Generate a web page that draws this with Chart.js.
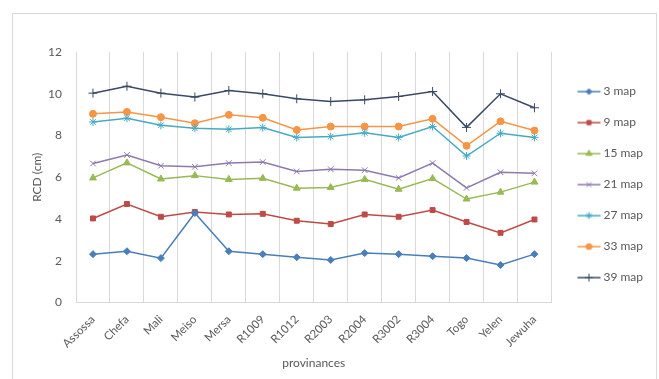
<!DOCTYPE html>
<html>
<head>
<meta charset="utf-8">
<script src="https://cdn.jsdelivr.net/npm/chart.js@4.4.0/dist/chart.umd.min.js"></script>
<style>
html, body { margin: 0; padding: 0; background: #fff; }
#wrap { width: 659px; height: 379px; }
</style>
</head>
<body>
<div id="wrap"><canvas id="graph" width="659" height="379"></canvas></div>
<script>
const provinces = ["Assossa", "Chefa", "Mali", "Meiso", "Mersa", "R1009", "R1012", "R2003", "R2004", "R3002", "R3004", "Togo", "Yelen", "Jewuha"]
const seriesNames = ["3 map", "9 map", "15 map", "21 map", "27 map", "33 map", "39 map"]

const map3  = [2.32, 2.46, 2.13, 4.29, 2.46, 2.32, 2.17, 2.04, 2.37, 2.32, 2.22, 2.13, 1.80, 2.32]
const map9  = [4.03, 4.72, 4.11, 4.34, 4.22, 4.25, 3.92, 3.76, 4.22, 4.11, 4.43, 3.86, 3.34, 3.98]
const map15 = [5.97, 6.69, 5.92, 6.08, 5.90, 5.95, 5.48, 5.51, 5.90, 5.43, 5.94, 4.96, 5.29, 5.77]
const map21 = [6.66, 7.07, 6.55, 6.50, 6.68, 6.73, 6.28, 6.39, 6.34, 5.97, 6.68, 5.49, 6.24, 6.19]
const map27 = [8.65, 8.83, 8.49, 8.35, 8.30, 8.38, 7.91, 7.95, 8.13, 7.91, 8.43, 7.02, 8.11, 7.91]
const map33 = [9.04, 9.13, 8.88, 8.59, 8.99, 8.85, 8.27, 8.43, 8.43, 8.43, 8.80, 7.51, 8.68, 8.24]
const map39 = [10.03, 10.36, 10.03, 9.84, 10.16, 10.0, 9.76, 9.63, 9.71, 9.87, 10.11, 8.39, 10.0, 9.33]

const yTicks = [0, 2, 4, 6, 8, 10, 12]

const lineColors   = ["#4a7ebb", "#be4b48", "#98b954", "#8d79ad", "#46aac5", "#f69546", "#3a4a62"]
const markerStyles = ["rectRot", "rect", "triangle", "crossRot", "star", "circle", "cross"]
const markerSizes  = [3.5, 3.5, 4, 4, 4, 3.5, 4.5]

const font = "Lato, 'Liberation Sans', sans-serif"
const textColor = "#595959"

// line + marker icon for the legend (excel style), drawn in the right part of the canvas
const makeIcon = (i) => {
    let cv = document.createElement("canvas")
    cv.width = 35
    cv.height = 12
    let ctx = cv.getContext("2d")
    ctx.strokeStyle = lineColors[i]
    ctx.lineWidth = 1.5
    ctx.beginPath()
    ctx.moveTo(11, 6)
    ctx.lineTo(34, 6)
    ctx.stroke()
    ctx.fillStyle = lineColors[i]
    ctx.lineWidth = 1
    Chart.helpers.drawPoint(ctx, {pointStyle: markerStyles[i], radius: markerSizes[i] - 0.5, rotation: 0, borderWidth: 1}, 22.5, 6)
    return cv
}

const frame = {
    id: "frame",
    beforeDraw: (chart) => {
        let ctx = chart.ctx
        ctx.save()
        ctx.strokeStyle = "#d9d9d9"
        ctx.lineWidth = 1
        ctx.strokeRect(12.5, 13.5, 644, 400)
        ctx.restore()
    }
}

const allData = [map3, map9, map15, map21, map27, map33, map39]

var rcd = document.getElementById("graph").getContext("2d")
var rcd_chart = new Chart(rcd, {
    type: "line",
    data: {
        labels: provinces,
        datasets: allData.map((d, i) => ({
            label: seriesNames[i],
            data: d,
            borderColor: lineColors[i],
            backgroundColor: lineColors[i],
            borderWidth: 1.5,
            pointStyle: markerStyles[i],
            pointRadius: markerSizes[i],
            pointBorderWidth: 1,
            pointBorderColor: lineColors[i],
            pointBackgroundColor: lineColors[i],
            tension: 0,
            fill: false
        }))
    },
    options: {
        responsive: false,
        animation: false,
        layout: {
            padding: {top: 52, left: 22, right: 6, bottom: 9}
        },
        plugins: {
            tooltip: {enabled: false},
            legend: {
                position: "right",
                fullSize: false,
                align: "end",
                labels: {
                    usePointStyle: true,
                    pointStyleWidth: 27,
                    boxHeight: 12,
                    padding: 19,
                    color: textColor,
                    font: {family: font, size: 12},
                    generateLabels: (chart) => chart.data.datasets.map((ds, i) => ({
                        text: ds.label,
                        fillStyle: lineColors[i],
                        strokeStyle: lineColors[i],
                        fontColor: textColor,
                        lineWidth: 0,
                        pointStyle: makeIcon(i),
                        datasetIndex: i,
                        hidden: false
                    }))
                }
            }
        },
        scales: {
            x: {
                offset: true,
                afterFit: (axis) => { axis.height = 67.4 },
                grid: {offset: true, color: "#d9d9d9", drawTicks: false},
                border: {color: "#d9d9d9"},
                ticks: {
                    color: textColor,
                    font: {family: font, size: 11.5},
                    minRotation: 45,
                    maxRotation: 45,
                    padding: 10
                },
                title: {
                    display: true,
                    text: "provinances",
                    color: textColor,
                    font: {family: font, size: 12},
                    padding: {top: 3, bottom: 0}
                }
            },
            y: {
                min: 0,
                max: 12,
                afterBuildTicks: (axis) => { axis.ticks = yTicks.map(v => ({value: v})) },
                afterFit: (axis) => { axis.width = 54 },
                grid: {display: false, drawTicks: false},
                border: {display: false},
                ticks: {
                    color: textColor,
                    font: {family: font, size: 12},
                    padding: 14
                },
                title: {
                    display: true,
                    text: "RCD (cm)",
                    color: textColor,
                    font: {family: font, size: 12},
                    padding: {top: 8, bottom: 0}
                }
            }
        }
    },
    plugins: [frame]
})
</script>
</body>
</html>
